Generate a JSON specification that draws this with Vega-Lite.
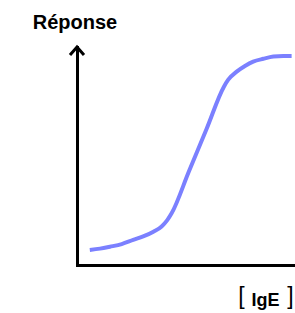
{
  "$schema": "https://vega.github.io/schema/vega-lite/v6.json",
  "autosize": {"type": "none"},
  "padding": {"left": 77, "top": 47, "right": 1, "bottom": 48},
  "width": 217,
  "height": 218,
  "background": "white",
  "config": {"view": {"stroke": null}},
  "layer": [
    {
      "data": {"values": [
        {"x": 5.9, "y": 6.9},
        {"x": 10.6, "y": 7.5},
        {"x": 15.2, "y": 8.4},
        {"x": 20.6, "y": 9.6},
        {"x": 25.9, "y": 11.5},
        {"x": 30.5, "y": 13.1},
        {"x": 35.2, "y": 15.3},
        {"x": 39.0, "y": 17.7},
        {"x": 41.6, "y": 20.6},
        {"x": 43.6, "y": 23.7},
        {"x": 51.6, "y": 43.0},
        {"x": 59.7, "y": 62.4},
        {"x": 67.7, "y": 81.8},
        {"x": 69.7, "y": 85.0},
        {"x": 73.6, "y": 88.7},
        {"x": 77.4, "y": 91.3},
        {"x": 81.2, "y": 93.3},
        {"x": 85.9, "y": 94.6},
        {"x": 90.5, "y": 95.6},
        {"x": 95.1, "y": 95.9},
        {"x": 98.9, "y": 95.9}
      ]},
      "mark": {"type": "line", "color": "#7b80ff", "strokeWidth": 4, "interpolate": "monotone", "strokeCap": "butt"},
      "encoding": {
        "x": {"field": "x", "type": "quantitative", "scale": {"domain": [0, 100], "nice": false, "zero": false},
          "axis": {"title": null, "labels": false, "ticks": false, "grid": false, "domainColor": "black", "domainWidth": 3, "domainCap": "square"}},
        "y": {"field": "y", "type": "quantitative", "scale": {"domain": [0, 100], "nice": false, "zero": false},
          "axis": {"title": null, "labels": false, "ticks": false, "grid": false, "domainColor": "black", "domainWidth": 3, "domainCap": "square"}}
      }
    },
    {
      "data": {"values": [{}]},
      "mark": {"type": "point", "shape": "M-1,1.15L0,0L1,1.15", "size": 196, "filled": false, "stroke": "black", "strokeWidth": 3, "opacity": 1},
      "encoding": {
        "x": {"datum": 0, "type": "quantitative", "scale": {"domain": [0, 100]}},
        "y": {"datum": 100, "type": "quantitative", "scale": {"domain": [0, 100]}}
      }
    },
    {
      "data": {"values": [{}]},
      "mark": {"type": "text", "text": "Réponse", "font": "Liberation Sans", "fontWeight": "bold", "fontSize": 20, "align": "center", "baseline": "alphabetic", "dx": -2},
      "encoding": {
        "x": {"datum": 0, "type": "quantitative", "scale": {"domain": [0, 100]}},
        "y": {"datum": 108.3, "type": "quantitative", "scale": {"domain": [0, 100]}}
      }
    },
    {
      "data": {"values": [{}]},
      "mark": {"type": "text", "text": "IgE", "font": "Liberation Sans", "fontWeight": "bold", "fontSize": 18, "align": "center", "baseline": "alphabetic"},
      "encoding": {
        "x": {"datum": 86.9, "type": "quantitative", "scale": {"domain": [0, 100]}},
        "y": {"datum": -18.8, "type": "quantitative", "scale": {"domain": [0, 100]}}
      }
    },
    {
      "data": {"values": [{}]},
      "mark": {"type": "text", "text": "[", "font": "Liberation Sans", "fontWeight": "normal", "fontSize": 23, "align": "center", "baseline": "alphabetic"},
      "encoding": {
        "x": {"datum": 75.8, "type": "quantitative", "scale": {"domain": [0, 100]}},
        "y": {"datum": -17.8, "type": "quantitative", "scale": {"domain": [0, 100]}}
      }
    },
    {
      "data": {"values": [{}]},
      "mark": {"type": "text", "text": "]", "font": "Liberation Sans", "fontWeight": "normal", "fontSize": 23, "align": "center", "baseline": "alphabetic"},
      "encoding": {
        "x": {"datum": 98.4, "type": "quantitative", "scale": {"domain": [0, 100]}},
        "y": {"datum": -17.8, "type": "quantitative", "scale": {"domain": [0, 100]}}
      }
    }
  ]
}
